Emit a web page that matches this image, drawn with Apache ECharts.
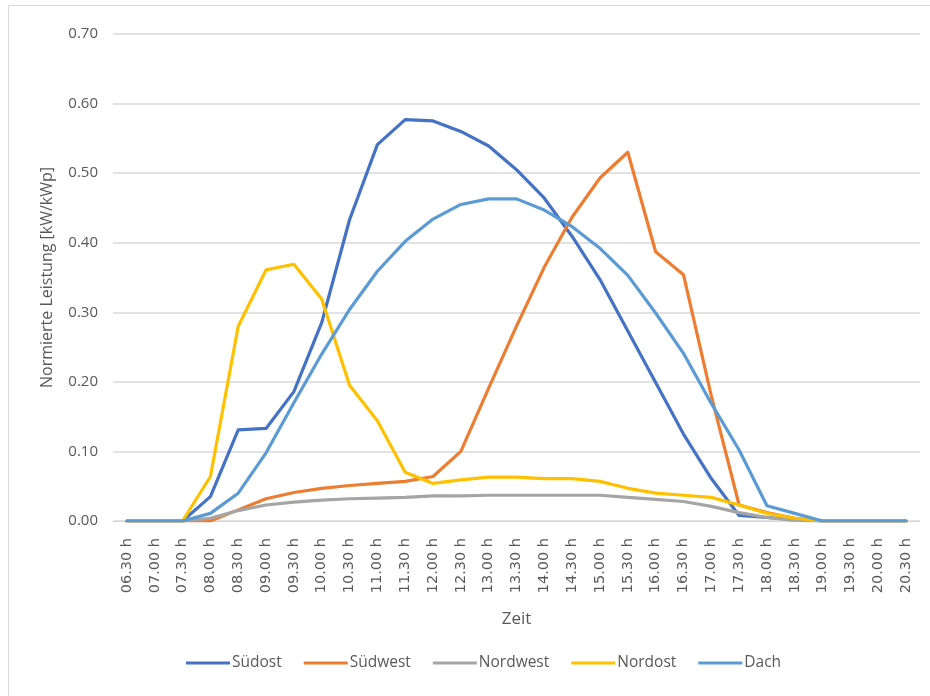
<!DOCTYPE html>
<html>
<head>
<meta charset="utf-8">
<script src="https://cdn.jsdelivr.net/npm/echarts@6/dist/echarts.min.js"></script>
<style>
  html, body { margin: 0; padding: 0; background: #fff; }
  #chart { width: 930px; height: 696px; }
</style>
</head>
<body>
<div id="chart"></div>
<script>
// Half-hourly time slots
const zeit = [
  '06.30 h','07.00 h','07.30 h','08.00 h','08.30 h','09.00 h','09.30 h','10.00 h',
  '10.30 h','11.00 h','11.30 h','12.00 h','12.30 h','13.00 h','13.30 h','14.00 h',
  '14.30 h','15.00 h','15.30 h','16.00 h','16.30 h','17.00 h','17.30 h','18.00 h',
  '18.30 h','19.00 h','19.30 h','20.00 h','20.30 h'
];

// Normalised output per orientation [kW/kWp]
const suedost = [0, 0, 0, 0.035, 0.131, 0.133, 0.186, 0.285, 0.433, 0.541, 0.577, 0.575,
  0.560, 0.539, 0.505, 0.464, 0.409, 0.347, 0.273, 0.199, 0.125, 0.061, 0.008, 0.005,
  0.002, 0, 0, 0, 0];
const suedwest = [0, 0, 0, 0, 0.016, 0.032, 0.041, 0.047, 0.051, 0.054, 0.057, 0.064,
  0.100, 0.191, 0.280, 0.365, 0.437, 0.493, 0.530, 0.387, 0.354, 0.180, 0.023, 0.012,
  0.004, 0, 0, 0, 0];
const nordwest = [0, 0, 0, 0.004, 0.015, 0.023, 0.027, 0.030, 0.032, 0.033, 0.034, 0.036,
  0.036, 0.037, 0.037, 0.037, 0.037, 0.037, 0.034, 0.031, 0.028, 0.021, 0.012, 0.005,
  0.001, 0, 0, 0, 0];
const nordost = [0, 0, 0, 0.064, 0.280, 0.361, 0.369, 0.319, 0.195, 0.144, 0.070, 0.054,
  0.059, 0.063, 0.063, 0.061, 0.061, 0.057, 0.047, 0.040, 0.037, 0.034, 0.023, 0.011,
  0.004, 0, 0, 0, 0];
const dach = [0, 0, 0, 0.011, 0.040, 0.098, 0.170, 0.240, 0.304, 0.359, 0.402, 0.434,
  0.455, 0.463, 0.463, 0.447, 0.423, 0.392, 0.353, 0.299, 0.241, 0.169, 0.102, 0.022,
  0.011, 0, 0, 0, 0];

const seriesNames = ['Südost', 'Südwest', 'Nordwest', 'Nordost', 'Dach'];
const seriesColors = ['#4472C4', '#ED7D31', '#A5A5A5', '#FFC000', '#5B9BD5'];
const seriesData = [suedost, suedwest, nordwest, nordost, dach];

const font = '"Open Sans", "Noto Sans", sans-serif';
const wideFont = '"DejaVu Sans", "Open Sans", sans-serif';
const textGray = '#595959';

const chart = echarts.init(document.getElementById('chart'), null, { renderer: 'canvas' });

chart.setOption({
  animation: false,
  backgroundColor: '#ffffff',
  graphic: [{
    type: 'rect',
    shape: { x: 8.5, y: 5.5, width: 940, height: 720 },
    style: { fill: 'none', stroke: '#D9D9D9', lineWidth: 1 },
    silent: true
  }],
  grid: { left: 113, right: 10, top: 34, bottom: 175, containLabel: false },
  legend: {
    bottom: 20,
    left: 181,
    itemWidth: 44,
    itemHeight: 3,
    itemGap: 22,
    icon: 'rect',
    textStyle: { color: textGray, fontSize: 15.5, fontFamily: font, padding: [0, 0, 0, -3] },
    data: seriesNames
  },
  xAxis: {
    type: 'category',
    data: zeit,
    boundaryGap: true,
    name: 'Zeit',
    nameLocation: 'middle',
    nameGap: 90,
    nameTextStyle: { color: textGray, fontSize: 17, fontFamily: font },
    axisLine: { show: true, lineStyle: { color: '#D9D9D9', width: 1 } },
    axisTick: { show: false },
    axisLabel: {
      rotate: 90,
      interval: 0,
      margin: 17,
      color: textGray,
      fontSize: 14.5,
      fontFamily: wideFont
    },
    splitLine: { show: false }
  },
  yAxis: {
    type: 'value',
    min: 0,
    max: 0.7,
    interval: 0.1,
    name: 'Normierte Leistung [kW/kWp]',
    nameLocation: 'middle',
    nameGap: 58,
    nameTextStyle: { color: textGray, fontSize: 16, fontFamily: font },
    axisLine: { show: false },
    axisTick: { show: false },
    axisLabel: {
      color: textGray,
      fontSize: 15,
      fontFamily: font,
      margin: 15,
      formatter: v => v.toFixed(2)
    },
    splitLine: { lineStyle: { color: '#D9D9D9', width: 1.5 } }
  },
  series: seriesNames.map((name, i) => ({
    name: name,
    type: 'line',
    data: seriesData[i],
    showSymbol: false,
    symbol: 'none',
    smooth: false,
    lineStyle: { color: seriesColors[i], width: 3.2, join: 'round', cap: 'round' },
    itemStyle: { color: seriesColors[i] }
  }))
});
</script>
</body>
</html>
